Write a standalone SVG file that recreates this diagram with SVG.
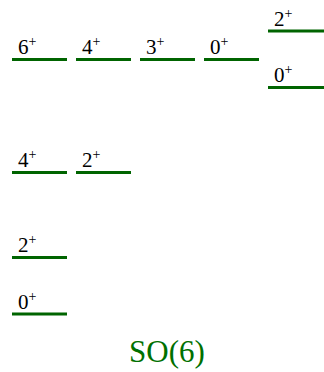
<svg xmlns="http://www.w3.org/2000/svg" width="324" height="372" viewBox="0 0 324 372">
<style>
.lv{stroke:#006400;stroke-width:3;fill:none}
</style>
<g id="connectors"/>
<g font-family="Liberation Serif, serif" font-size="21" fill="#000">
<g id="n1"><line class="lv" x1="12" y1="59.5" x2="67" y2="59.5"/><text x="18" y="54">6<tspan font-size="14" dy="-8">+</tspan></text></g>
<g id="n2"><line class="lv" x1="76" y1="59.5" x2="131" y2="59.5"/><text x="82" y="54">4<tspan font-size="14" dy="-8">+</tspan></text></g>
<g id="n3"><line class="lv" x1="140" y1="59.5" x2="195" y2="59.5"/><text x="146" y="54">3<tspan font-size="14" dy="-8">+</tspan></text></g>
<g id="n4"><line class="lv" x1="204" y1="59.5" x2="259" y2="59.5"/><text x="210" y="54">0<tspan font-size="14" dy="-8">+</tspan></text></g>
<g id="n5"><line class="lv" x1="268" y1="31" x2="324" y2="31"/><text x="274" y="25.5">2<tspan font-size="14" dy="-8">+</tspan></text></g>
<g id="n6"><line class="lv" x1="268" y1="87.5" x2="324" y2="87.5"/><text x="274" y="82">0<tspan font-size="14" dy="-8">+</tspan></text></g>
<g id="n7"><line class="lv" x1="12" y1="172.5" x2="67" y2="172.5"/><text x="18" y="167">4<tspan font-size="14" dy="-8">+</tspan></text></g>
<g id="n8"><line class="lv" x1="76" y1="172.5" x2="131" y2="172.5"/><text x="82" y="167">2<tspan font-size="14" dy="-8">+</tspan></text></g>
<g id="n9"><line class="lv" x1="12" y1="257.5" x2="67" y2="257.5"/><text x="18" y="252">2<tspan font-size="14" dy="-8">+</tspan></text></g>
<g id="n10"><line class="lv" x1="12" y1="314" x2="67" y2="314"/><text x="18" y="308.5">0<tspan font-size="14" dy="-8">+</tspan></text></g>
<text x="167" y="362" font-size="31" fill="#007000" text-anchor="middle">SO(6)</text>
</g>
</svg>
